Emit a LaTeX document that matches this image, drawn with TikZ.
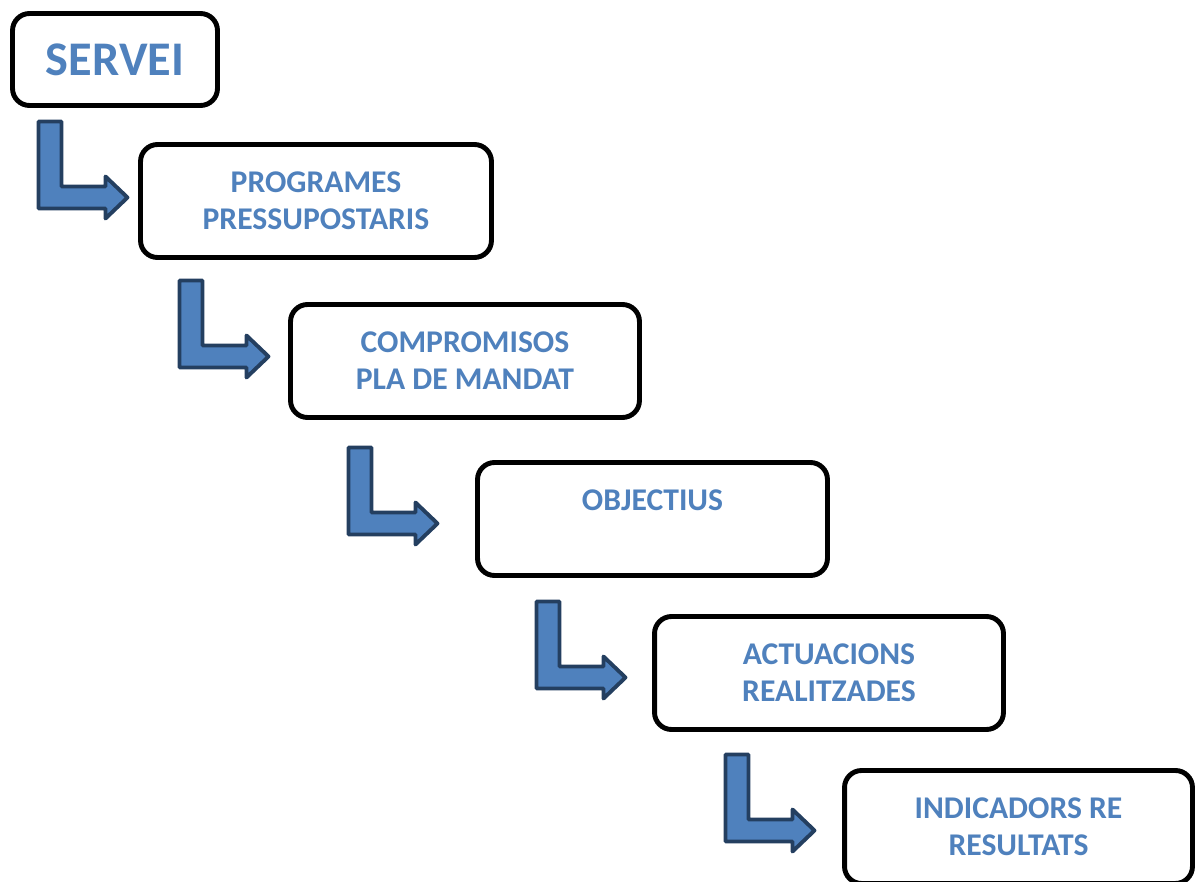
\documentclass[tikz,border=0pt]{standalone}
\usepackage{fontspec}
\setmainfont{Carlito}
\definecolor{textblue}{HTML}{4F81BD}
\definecolor{arrowfill}{HTML}{4F81BD}
\definecolor{arrowline}{HTML}{243F60}
\tikzset{
  stage/.style={draw=black,line width=2.8pt,rounded corners=0.34cm,fill=white,
    minimum width=#1,minimum height=2.26cm,align=center,text=textblue,
    font=\bfseries\fontsize{18}{21}\selectfont,inner sep=0pt},
  bendarrow/.style={draw=arrowline,fill=arrowfill,line width=2.2pt,line join=round}
}
\begin{document}
\begin{tikzpicture}[x=0.02cm,y=-0.02cm]
\useasboundingbox (0,0) rectangle (1197,882);
\clip (0,0) rectangle (1197,882);
% the six stages, one under the other
\node[stage=4.1cm,minimum height=1.84cm,font=\bfseries\fontsize{27.5}{30}\selectfont] (servei) at (115,59.5) {SERVEI};
\node[stage=7.02cm] (programes) at (316,201) {PROGRAMES\\PRESSUPOSTARIS};
\node[stage=6.98cm] (compromisos) at (465,361) {COMPROMISOS\\PLA DE MANDAT};
\node[stage=7.0cm] (objectius) at (652.5,519) {OBJECTIUS\\\mbox{}};
\node[stage=6.98cm] (actuacions) at (829,673) {ACTUACIONS\\REALITZADES};
\node[stage=6.96cm] (indicadors) at (1018.5,827) {INDICADORS RE\\RESULTATS};
% bent arrows between the stages
\foreach \ax/\ay in {37/120,178/279,347/446,535/600,724/753} {
  \draw[bendarrow,shift={(\ax,\ay)}] (1.5,1.5) -- (24.5,1.5) -- (24.5,66.5) -- (68.5,66.5)
    -- (68.5,56.5) -- (90.5,77.5) -- (68.5,98.5) -- (68.5,88.5) -- (1.5,88.5) -- cycle;
}
\end{tikzpicture}
\end{document}
